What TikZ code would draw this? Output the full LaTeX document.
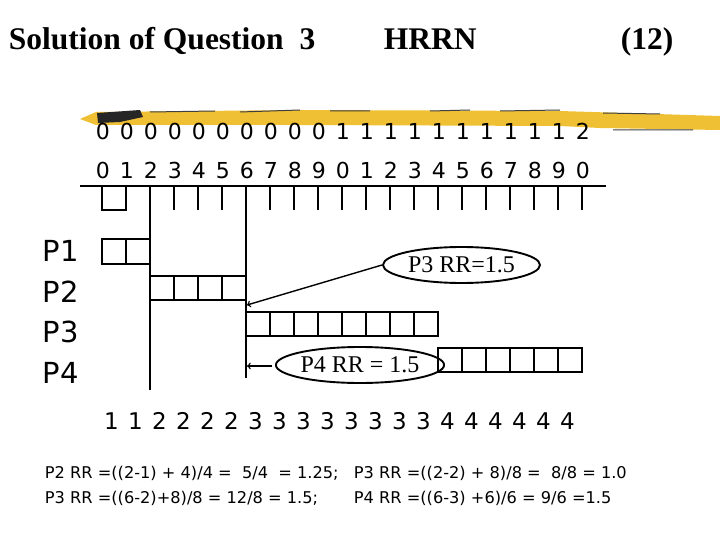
\documentclass[tikz,border=0pt]{standalone}
\usepackage{fontspec}
\setmainfont{Liberation Serif}
\setsansfont{DejaVu Sans}
\usetikzlibrary {positioning,shapes.geometric}
\definecolor{brush}{RGB}{240,192,52}
\newcommand{\dg}[1]{\makebox[24pt]{#1}}

\begin{document}
\begin{tikzpicture}[x=1pt,y=-1pt,line width=1.9pt,
  title/.style={font=\fontsize{31.5}{31.5}\selectfont\bfseries, anchor=base west, inner sep=0pt},
  digits/.style={font=\sffamily\fontsize{22}{22}\selectfont, anchor=west, inner sep=0pt},
  proc/.style={font=\sffamily\fontsize{29}{29}\selectfont, anchor=west, inner sep=0pt},
  ratio/.style={draw, ellipse, inner sep=0pt, font=\fontsize{24}{24}\selectfont},
  calc/.style={font=\sffamily\fontsize{16.2}{16.2}\selectfont, anchor=base west, inner sep=0pt}]

\useasboundingbox (0,0) rectangle (720,540);

\node[title] (H1) at (8,50) {Solution of Question\ \ 3};

\node[title] (H2) at (383,50) {HRRN};

\node[title] (H3) at (620,50) {(12)};

\fill[brush] (80,119) -- (96,112) -- (300,110) -- (560,111) -- (720,116) -- (720,130) -- (600,128) -- (560,126) -- (300,125) -- (96,125) -- cycle;

\fill[black!85] (97,113) -- (140,110) -- (143,117) -- (120,122) -- (98,123) -- cycle;

\draw[black!75, line width=1pt] (150,112) -- (215,111) (240,112) -- (300,110) (330,111) -- (370,111) (430,111) -- (470,110) (500,111) -- (560,110) (603,113) -- (660,114) (613,130) -- (693,130);

\node[digits] (T1) at (90,131) {\dg0\dg0\dg0\dg0\dg0\dg0\dg0\dg0\dg0\dg0\dg1\dg1\dg1\dg1\dg1\dg1\dg1\dg1\dg1\dg1\dg2};

\node[digits] (T2) at (90,170) {\dg0\dg1\dg2\dg3\dg4\dg5\dg6\dg7\dg8\dg9\dg0\dg1\dg2\dg3\dg4\dg5\dg6\dg7\dg8\dg9\dg0};

\draw (80,186) -- (606,186);

\draw (102,186) -- (102,210) -- (126,210) -- (126,186);

\draw (174,186) -- (174,210) (198,186) -- (198,210) (222,186) -- (222,210)
  (270,186) -- (270,210) (294,186) -- (294,210) (318,186) -- (318,210)
  (342,186) -- (342,210) (366,186) -- (366,210) (390,186) -- (390,210)
  (414,186) -- (414,210) (438,186) -- (438,210) (462,186) -- (462,210)
  (486,186) -- (486,210) (510,186) -- (510,210) (534,186) -- (534,210)
  (558,186) -- (558,210) (582,186) -- (582,210);

\draw (150,186) -- (150,390);

\draw (246,186) -- (246,378);

\node[proc] (P1) at (42,251) {P1};

\node[proc] (P2) at (42,291.5) {P2};

\node[proc] (P3) at (42,332) {P3};

\node[proc] (P4) at (42,372.5) {P4};

\draw (102,239) rectangle (150,264);
\draw (126,239) -- (126,264);

\draw (150,276) rectangle (246,300);
\draw (174,276) -- (174,300) (198,276) -- (198,300) (222,276) -- (222,300);

\draw (246,312) rectangle (438,336);
\draw (270,312) -- (270,336) (294,312) -- (294,336) (318,312) -- (318,336) (342,312) -- (342,336)
  (366,312) -- (366,336) (390,312) -- (390,336) (414,312) -- (414,336);

\draw (438,348) rectangle (582,372);
\draw (462,348) -- (462,372) (486,348) -- (486,372) (510,348) -- (510,372) (534,348) -- (534,372)
  (558,348) -- (558,372);

\node[ratio, minimum width=157pt, minimum height=36pt] (R3) at (461.5,265) {P3 RR=1.5};

\node[ratio, minimum width=144pt, minimum height=36pt] (R4) at (360,365) {P4 RR = 1.5};

\coordinate (A3) at (247,305);
\coordinate (S4) at (272,366);
\coordinate (A4) at (247,366);

\draw[->, line width=1.4pt] (R3.west) -- (A3);
\draw[->, line width=1.4pt] (S4) -- (A4);

\node[digits, font=\sffamily\fontsize{23}{23}\selectfont] (Q) at (98.5,421) {\dg1\dg1\dg2\dg2\dg2\dg2\dg3\dg3\dg3\dg3\dg3\dg3\dg3\dg3\dg4\dg4\dg4\dg4\dg4\dg4};

\node[calc] (L1a) at (44,478) {P2 RR =((2-1) + 4)/4 =\ \ 5/4\ \ = 1.25;};

\node[calc] (L1b) at (353,478) {P3 RR =((2-2) + 8)/8 =\ \ 8/8 = 1.0};

\node[calc] (L2a) at (44,503) {P3 RR =((6-2)+8)/8 = 12/8 = 1.5;};

\node[calc] (L2b) at (353,503) {P4 RR =((6-3) +6)/6 = 9/6 =1.5};
\end{tikzpicture}
\end{document}
